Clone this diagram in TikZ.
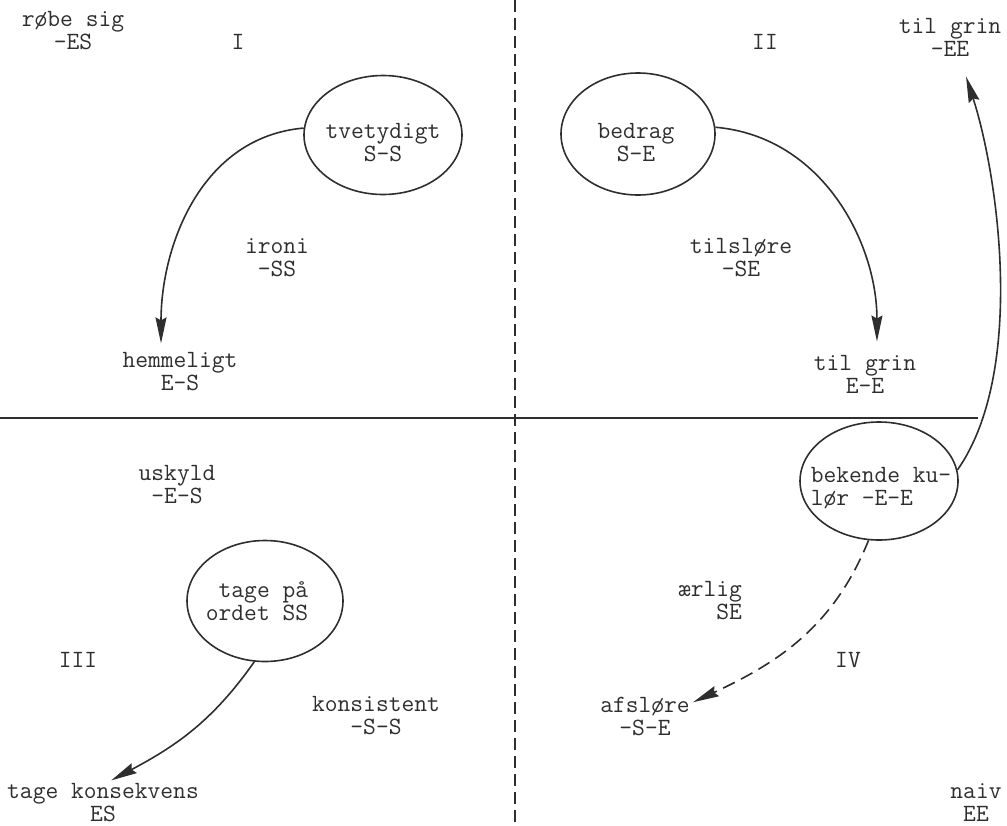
\documentclass[tikz,border=0pt]{standalone}
\usepackage{fontspec}
\usepackage{tikz}
\usetikzlibrary{arrows.meta, shapes.geometric}
\definecolor{ink}{HTML}{2E2E2E}

\begin{document}
\begin{tikzpicture}[x=0.5pt, y=0.5pt,
  lbl/.style={align=center, inner sep=1.5pt, text=ink,
              font=\ttfamily\fontsize{12.4}{11.5}\selectfont},
  oval/.style={ellipse, draw=ink, line width=0.8pt, inner sep=0pt},
  arr/.style={draw=ink, line width=0.8pt,
              -{Stealth[length=13pt, width=5.5pt, inset=1.5pt]}},
]
  \useasboundingbox (0,0) rectangle (1007,-825);

  % quadrant axes
  \coordinate (vtop) at (515,0);
  \coordinate (vbot) at (515,-825);
  \coordinate (hleft) at (0,-418);
  \coordinate (hright) at (978,-418);
  \draw[ink, line width=0.7pt, dash pattern=on 6pt off 3pt] (vtop) -- (vbot);
  \draw[ink, line width=1.1pt] (hleft) -- (hright);

  % quadrant numbers
  \node[lbl] (qI) at (238,-42) {I};
  \node[lbl] (qII) at (765,-42) {II};
  \node[lbl] (qIII) at (78,-660) {III};
  \node[lbl] (qIV) at (848,-660) {IV};

  % corner terms
  \node[lbl] (robe) at (73,-31) {røbe sig\\-ES};
  \node[lbl] (grinA) at (950,-37) {til grin\\-EE};
  \node[lbl] (tagek) at (103,-803) {tage konsekvens\\ES};
  \node[lbl] (naiv) at (976,-803) {naiv\\EE};

  % ellipses
  \node[oval, minimum width=79pt, minimum height=59.5pt] (tvet) at (383,-135) {};
  \node[lbl] (tvettxt) at (383,-143) {tvetydigt\\S-S};
  \node[oval, minimum width=77pt, minimum height=61pt] (bedrag) at (638,-134) {};
  \node[lbl] (bedragtxt) at (636,-143) {bedrag\\S-E};
  \node[oval, minimum width=78pt, minimum height=60.5pt] (tagepa) at (265,-601) {};
  \node[lbl, align=right] (tagepatxt) at (257,-601) {tage på\\ordet SS};
  \node[oval, minimum width=79pt, minimum height=59pt] (bekende) at (879,-481) {};
  \node[lbl, align=left] (bekendetxt) at (881,-488) {bekende ku-\\lør -E-E};

  % inner terms
  \node[lbl] (ironi) at (277,-258) {ironi\\-SS};
  \node[lbl] (tilslore) at (741,-258) {tilsløre\\-SE};
  \node[lbl] (hemml) at (180,-372) {hemmeligt\\E-S};
  \node[lbl] (grinB) at (865,-374) {til grin\\E-E};
  \node[lbl] (uskyld) at (177,-485) {uskyld\\-E-S};
  \node[lbl] (konsist) at (376,-716) {konsistent\\-S-S};
  \node[lbl, align=right] (aerlig) at (710,-601) {ærlig\\SE};
  \node[lbl] (afsl) at (645,-716) {afsløre\\-S-E};

  % arrows
  \draw[arr, shorten >=3pt] (tvet.175) to[out=185, in=90] (hemml.130);
  \draw[arr, shorten >=5pt] (bedrag.5) to[out=-5, in=90] (grinB.62);
  \draw[arr] (tagepa.-100) to[out=235, in=28] (tagek.70);
  \draw[arr, dash pattern=on 6.5pt off 3.5pt] (bekende.-100) to[out=248, in=25] (afsl.16);
  \draw[arr, shorten >=9pt] (bekende.8) to[out=55, in=-72, looseness=0.75] (grinA.-65);
\end{tikzpicture}
\end{document}
